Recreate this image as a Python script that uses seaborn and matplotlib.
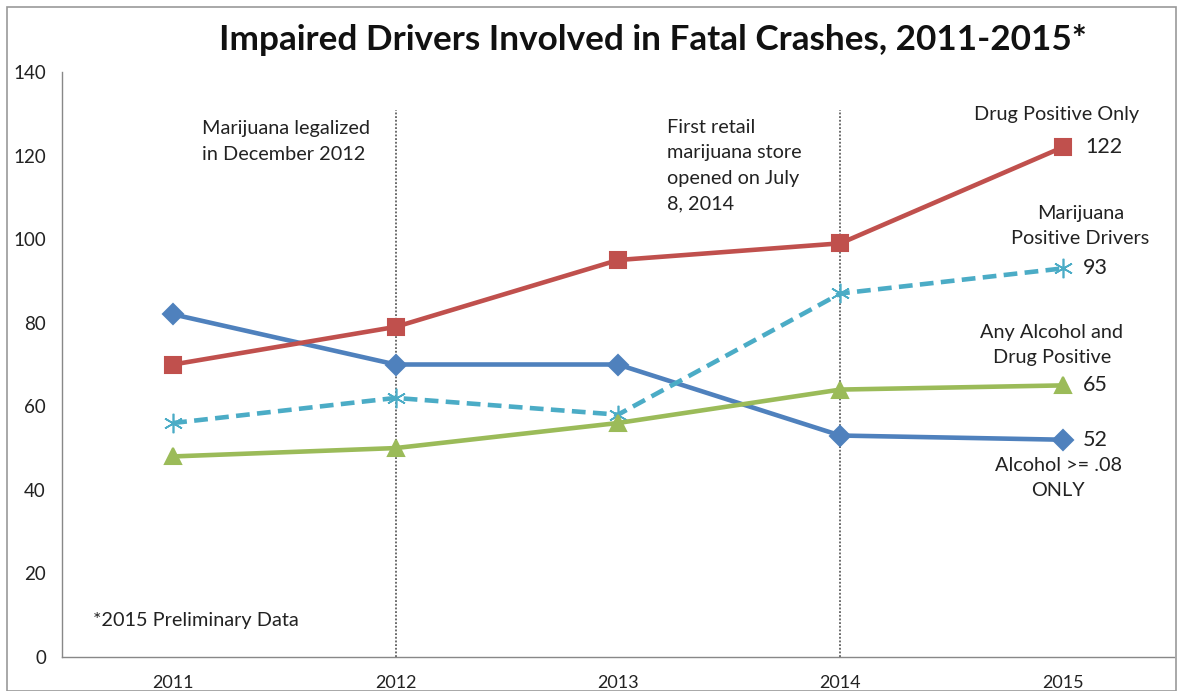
import matplotlib
matplotlib.use("Agg")
import matplotlib.pyplot as plt
import seaborn as sns
import pandas as pd
from matplotlib.patches import Rectangle

years = [2011, 2012, 2013, 2014, 2015]
alcohol_only = [82, 70, 70, 53, 52]
drug_positive_only = [70, 79, 95, 99, 122]
marijuana_positive = [56, 62, 58, 87, 93]
alcohol_and_drug = [48, 50, 56, 64, 65]
y_ticks = [0, 20, 40, 60, 80, 100, 120, 140]

sns.set_theme(style="white")
plt.rcParams['font.family'] = ['Lato', 'DejaVu Sans']

fig = plt.figure(figsize=(11.83, 6.91), dpi=100)
ax = fig.add_axes([0.0524, 0.0492, 0.9400, 0.8466])

series = [
    ("Alcohol >= .08 ONLY", alcohol_only, "#4F81BD", "D", "-", 10),
    ("Drug Positive Only", drug_positive_only, "#C0504D", "s", "-", 11),
    ("Marijuana Positive Drivers", marijuana_positive, "#4BACC6", (6, 2, 0), "--", 14),
    ("Any Alcohol and Drug Positive", alcohol_and_drug, "#9BBB59", "^", "-", 11),
]

# vertical dotted event lines
for xv in [2012, 2014]:
    ax.vlines(xv, 0, 131, colors="#444444", linestyles=(0, (1.2, 1.2)), linewidth=1.1, zorder=1)

for name, vals, col, mk, ls, ms in series:
    df = pd.DataFrame({"year": years, "value": vals})
    sns.lineplot(data=df, x="year", y="value", ax=ax, color=col, linewidth=3.3,
                 linestyle=ls, marker=mk, markersize=ms, markeredgecolor=col,
                 markerfacecolor=col, markeredgewidth=1.5 if mk != (6, 2, 0) else 1.2,
                 zorder=3)
    if ls == "--":
        ax.lines[-1].set_dashes((3, 1.6))

ax.set_xlim(2010.5, 2015.5)
ax.set_ylim(0, 140)
ax.set_yticks(y_ticks)
ax.set_xticks(years)
ax.set_xticks([2010.5 + i for i in range(6)], minor=True)
ax.tick_params(axis="x", which="major", length=0, pad=13, labelsize=13, colors="#222222")
ax.tick_params(axis="x", which="minor", length=4, width=1, color="#888888", direction="out")
ax.tick_params(axis="y", length=3.6, width=1, color="#888888", direction="out", labelsize=13.5,
               labelcolor="#222222", pad=8)
ax.set_xlabel("")
ax.set_ylabel("")
for s in ["top", "right"]:
    ax.spines[s].set_visible(False)
for s in ["left", "bottom"]:
    ax.spines[s].set_color("#888888")
    ax.spines[s].set_linewidth(1)

fs = 14.3
tc = "#222222"
ls_ = 1.6
ax.text(2011.13, 123.4, "Marijuana legalized\nin December 2012", fontsize=fs, color=tc,
        ha="left", va="center", linespacing=ls_)
ax.text(2013.22, 117.6, "First retail\nmarijuana store\nopened on July\n8, 2014", fontsize=fs,
        color=tc, ha="left", va="center", linespacing=ls_)
ax.text(2010.64, 8.85, "*2015 Preliminary Data", fontsize=fs, color=tc, ha="left", va="center")

ax.text(2014.97, 129.9, "Drug Positive Only", fontsize=fs, color=tc, ha="center", va="center")
ax.text(2015.08, 103.1, "Marijuana\nPositive Drivers", fontsize=fs, color=tc, ha="center",
        va="center", linespacing=ls_)
ax.text(2014.95, 74.7, "Any Alcohol and\nDrug Positive", fontsize=fs, color=tc, ha="center",
        va="center", linespacing=ls_)
ax.text(2014.98, 42.8, "Alcohol >= .08\nONLY", fontsize=fs, color=tc, ha="center",
        va="center", linespacing=ls_)

for vals, dx in [(drug_positive_only, 0.10), (marijuana_positive, 0.09),
                 (alcohol_and_drug, 0.09), (alcohol_only, 0.09)]:
    ax.text(2015 + dx, vals[-1], str(vals[-1]), fontsize=15.5, color=tc, ha="left", va="center")

fig.text(0.552, 0.942, "Impaired Drivers Involved in Fatal Crashes, 2011-2015*",
         fontsize=25.3, fontweight="bold", color="#111111", ha="center", va="center")

fig.patches.append(Rectangle((0.006, 0.0), 0.988, 0.99, transform=fig.transFigure,
                             fill=False, edgecolor="#999999", linewidth=1.2))

fig.savefig("out.png", dpi=100)
